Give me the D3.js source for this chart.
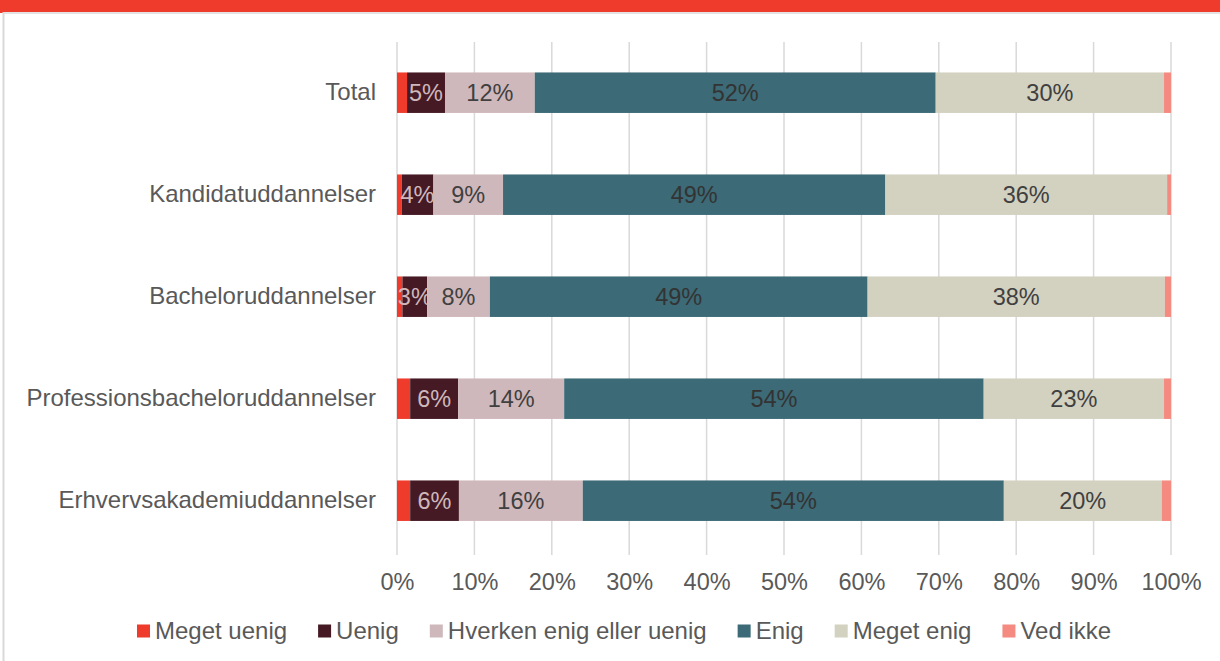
<!DOCTYPE html>
<html><head><meta charset="utf-8">
<script src="https://cdn.jsdelivr.net/npm/d3@7"></script>
<style>
html,body{margin:0;padding:0;background:#fff;}
svg{display:block;font-family:"Liberation Sans",Arial,sans-serif;}
</style></head>
<body>
<svg id="c" width="1220" height="661"></svg>
<script>
const categories = ["Total","Kandidatuddannelser","Bacheloruddannelser","Professionsbacheloruddannelser","Erhvervsakademiuddannelser"];
const seriesNames = ["Meget uenig","Uenig","Hverken enig eller uenig","Enig","Meget enig","Ved ikke"];
const megetUenig = [1.3,0.6,0.7,1.7,1.7];
const uenig      = [4.9,4.1,3.2,6.2,6.3];
const hverken    = [11.6,9.0,8.1,13.7,16.0];
const enig       = [51.8,49.4,48.8,54.2,54.4];
const megetEnig  = [29.5,36.4,38.4,23.3,20.4];
const vedIkke    = [0.9,0.5,0.8,0.9,1.2];
const tickValues = [0,10,20,30,40,50,60,70,80,90,100];
const colors = ["#EF3B2C","#451A25","#CFB8BB","#3C6A76","#D3D1C0","#F48A80"];
const labelColors = [null,"#CFB8BB","#404040","#333333","#404040",null];

const seriesValues = [megetUenig,uenig,hverken,enig,megetEnig,vedIkke];
const rows = categories.map((c,i)=>{const o={cat:c}; seriesNames.forEach((s,j)=>o[s]=seriesValues[j][i]); return o;});
const stacked = d3.stack().keys(seriesNames)(rows);

const svg = d3.select("#c");
// frame
svg.append("rect").attr("x",0).attr("y",0).attr("width",1220).attr("height",12).attr("fill","#EF3B2C");
svg.append("rect").attr("x",0).attr("y",12).attr("width",3).attr("height",1).attr("fill","#EF3B2C");
svg.append("line").attr("x1",3).attr("x2",1220).attr("y1",13).attr("y2",13).attr("stroke","#e3e3e3").attr("stroke-width",2);
svg.append("line").attr("x1",3.5).attr("x2",3.5).attr("y1",12).attr("y2",661).attr("stroke","#d9d9d9").attr("stroke-width",2);

const x = d3.scaleLinear().domain([0,100]).range([397,1171]);
const y = d3.scaleBand().domain(categories).range([41.7,551.7]).paddingInner(0.603).paddingOuter(0.3015);

// gridlines
svg.append("g").selectAll("line").data(tickValues).join("line")
  .attr("x1",d=>x(d)).attr("x2",d=>x(d)).attr("y1",42).attr("y2",555)
  .attr("stroke","#d9d9d9").attr("stroke-width",1.5);

// x axis labels
const xAxis = d3.axisBottom(x).tickValues(tickValues).tickFormat(d=>d+"%").tickSize(0).tickPadding(0);
const gx = svg.append("g").attr("transform","translate(0,573)").call(xAxis);
gx.select(".domain").remove();
gx.selectAll("text").attr("font-size",23.5).attr("fill","#595959").attr("font-family","Liberation Sans, Arial, sans-serif");

// y axis labels
const yAxis = d3.axisLeft(y).tickSize(0).tickPadding(0);
const gy = svg.append("g").attr("transform","translate(376,0)").call(yAxis);
gy.select(".domain").remove();
gy.selectAll("text").attr("font-size",24).attr("fill","#595959").attr("font-family","Liberation Sans, Arial, sans-serif");

// bars
stacked.forEach((s,j)=>{
  const g = svg.append("g");
  g.selectAll("rect").data(s).join("rect")
    .attr("x",d=>x(d[0])).attr("width",d=>x(d[1])-x(d[0]))
    .attr("y",d=>y(d.data.cat)).attr("height",y.bandwidth())
    .attr("fill",colors[j]);
  if(labelColors[j]){
    g.selectAll("text").data(s).join("text")
      .attr("x",d=>(x(d[0])+x(d[1]))/2).attr("y",d=>y(d.data.cat)+y.bandwidth()/2)
      .attr("dy","0.35em").attr("text-anchor","middle")
      .attr("font-size",23.5).attr("fill",labelColors[j])
      .text(d=>Math.round(d[1]-d[0])+"%");
  }
});

// legend
const leg = svg.append("g");
let lx = 137;
const ly = 631;
seriesNames.forEach((s,j)=>{
  leg.append("rect").attr("x",lx).attr("y",ly-6.5).attr("width",13).attr("height",13).attr("fill",colors[j]);
  const t = leg.append("text").attr("x",lx+18).attr("y",ly).attr("dy","0.35em")
    .attr("font-size",24).attr("fill","#595959").text(s);
  const w = t.node().getComputedTextLength();
  lx += 18 + w + 31;
});
</script>
</body></html>
